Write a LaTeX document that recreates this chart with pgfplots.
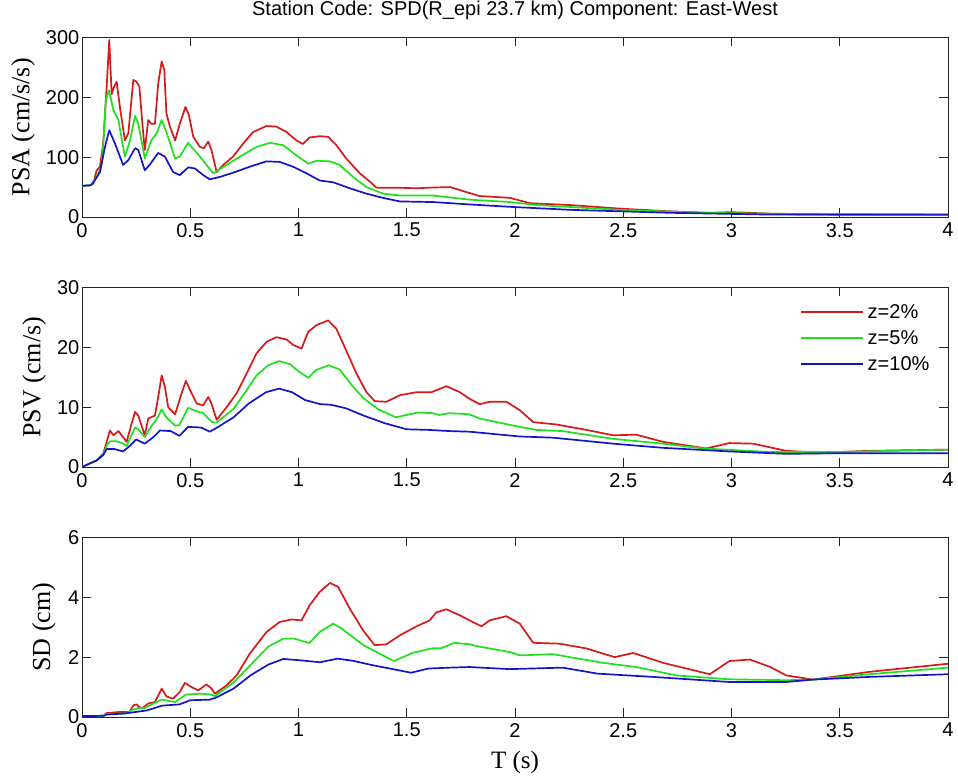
\documentclass[border=0pt]{standalone}
\usepackage{pgfplots}
\pgfplotsset{compat=1.18}
\usepackage{fontspec}
\setmainfont{Liberation Sans}
\newfontfamily\timesfont{Liberation Serif}
\definecolor{cr}{RGB}{215,25,25}
\definecolor{cg}{RGB}{30,225,30}
\definecolor{cb}{RGB}{20,20,205}
\pgfplotsset{
  myax/.style={
    scale only axis, width=866pt, height=179.5pt, anchor=south west,
    xmin=0, xmax=4,
    xtick={0,0.5,1,1.5,2,2.5,3,3.5,4},
    xticklabels={0,0.5,1,1.5,2,2.5,3,3.5,4},
    tick align=inside, major tick length=9pt,
    axis line style={black!85, line width=0.8pt},
    every tick/.style={black!85, line width=0.8pt},
    ticklabel style={font=\fontsize{20}{24}\selectfont},
    yticklabel style={inner xsep=2.5pt},
    xticklabel style={inner ysep=6pt},
    ylabel style={font=\timesfont\fontsize{26}{30}\selectfont, anchor=center, rotate=0},
    every axis plot/.append style={line width=1.7pt, line join=round},
    clip=true,
  }
}
\begin{document}
\begin{tikzpicture}
\path[use as bounding box] (0,0) rectangle (958pt,778pt);
% top
\begin{axis}[myax, at={(82pt,561pt)}, ymin=0, ymax=300,
  ytick={0,100,200,300}, yticklabels={0,100,200,300},
  ylabel={PSA (cm/s/s)}, ylabel style={at={(axis description cs:-0.0681,0.5)}},
  title={Station Code: SPD(R\_epi 23.7 km) Component: East-West},
  title style={font=\fontsize{20}{24}\selectfont, at={(axis description cs:0.5,1.12)}, anchor=center}]
\addplot[cr] coordinates {(0,52)(0.04,53)(0.052,56)(0.068,78)(0.083,84)(0.098,123)(0.114,218)(0.126,296)(0.137,205)(0.145,215)(0.16,226)(0.175,184)(0.198,128)(0.214,140)(0.237,229)(0.252,226)(0.265,218)(0.28,151)(0.29,112)(0.306,162)(0.32,156)(0.337,156)(0.352,223)(0.368,260)(0.38,246)(0.39,173)(0.406,151)(0.43,128)(0.452,156)(0.478,184)(0.494,170)(0.514,134)(0.545,117)(0.563,115)(0.583,126)(0.598,112)(0.622,75)(0.652,87)(0.698,101)(0.745,123)(0.79,142)(0.852,152)(0.898,151)(0.945,142)(0.99,128)(1.02,122)(1.052,133)(1.098,135)(1.137,134)(1.175,120)(1.22,98)(1.283,73)(1.33,59)(1.36,49)(1.45,49)(1.55,48)(1.6,49)(1.7,50)(1.79,40)(1.837,35)(1.976,32)(2.07,23)(2.253,20)(2.484,14)(2.715,9.5)(2.9,7)(2.99,8)(3.05,7.5)(3.18,5.6)(3.33,4)(3.6,3.8)(4,3.5)};
\addplot[cg] coordinates {(0,52)(0.04,53)(0.068,67)(0.09,85)(0.098,120)(0.11,195)(0.124,212)(0.145,179)(0.168,162)(0.198,101)(0.222,128)(0.245,169)(0.26,156)(0.29,98)(0.32,128)(0.345,140)(0.368,162)(0.39,142)(0.43,98)(0.452,101)(0.49,124)(0.506,117)(0.545,101)(0.606,73)(0.668,87)(0.73,101)(0.806,117)(0.868,124)(0.93,120)(0.99,103)(1.045,89)(1.083,94)(1.145,93)(1.19,87)(1.252,67)(1.314,50)(1.39,39)(1.468,36)(1.62,36)(1.79,29)(1.837,28)(1.976,25)(2.1,20)(2.48,12)(2.87,7)(3.3,5)(4,3.8)};
\addplot[cb] coordinates {(0,52)(0.04,53)(0.052,57)(0.083,75)(0.106,117)(0.126,145)(0.152,123)(0.19,87)(0.214,95)(0.245,115)(0.26,112)(0.29,78)(0.314,88)(0.352,107)(0.383,101)(0.421,75)(0.452,70)(0.491,83)(0.522,81)(0.56,70)(0.59,63)(0.637,67)(0.698,74)(0.775,84)(0.852,93)(0.914,92)(0.975,84)(1.037,73)(1.098,61)(1.16,58)(1.237,48)(1.314,39)(1.39,32)(1.468,26)(1.62,25)(1.79,21)(1.976,17)(2.253,12)(2.715,7)(3.18,4)(4,4)};
\end{axis}
% middle
\begin{axis}[myax, at={(82pt,311pt)}, ymin=0, ymax=30,
  ytick={0,10,20,30}, yticklabels={0,10,20,30},
  ylabel={PSV (cm/s)}, ylabel style={at={(axis description cs:-0.0554,0.5)}},
  legend cell align=left,
  legend style={draw=none, fill=none, at={(rel axis cs:0.826,0.947)}, anchor=north west,
    font=\fontsize{20}{24}\selectfont,
    nodes={inner ysep=0pt, inner xsep=3.5pt, text height=19pt, text depth=7pt}},
  legend image code/.code={\draw[#1] (0pt,0pt) -- (62pt,0pt);}]
\addplot[cr] coordinates {(0,0)(0.068,1.1)(0.098,2.2)(0.114,4.2)(0.129,6.1)(0.145,5.3)(0.168,6.0)(0.19,5.0)(0.206,4.2)(0.229,7.2)(0.245,9.2)(0.26,8.6)(0.29,5.3)(0.306,8.1)(0.337,8.6)(0.352,11.7)(0.368,15.3)(0.383,13.4)(0.398,10.0)(0.43,8.8)(0.46,12.3)(0.48,14.4)(0.5,12.8)(0.53,10.6)(0.56,10.3)(0.583,11.7)(0.598,10.6)(0.622,7.9)(0.668,10.0)(0.714,12.3)(0.76,15.6)(0.806,19.0)(0.852,20.9)(0.898,21.7)(0.945,21.3)(0.975,20.4)(1.014,19.8)(1.045,22.6)(1.083,23.7)(1.137,24.5)(1.175,23.1)(1.22,19.5)(1.268,15.6)(1.314,12.5)(1.352,11.0)(1.406,10.9)(1.468,12.0)(1.545,12.5)(1.614,12.5)(1.683,13.5)(1.745,12.5)(1.79,11.4)(1.837,10.5)(1.883,10.9)(1.96,10.9)(2.022,9.5)(2.084,7.5)(2.192,7.1)(2.33,6.2)(2.453,5.3)(2.56,5.4)(2.684,4.2)(2.884,3.1)(2.99,4.0)(3.1,3.9)(3.253,2.7)(3.41,2.4)(3.638,2.7)(4,2.9)};
\addlegendentry{z=2\%}
\addplot[cg] coordinates {(0,0)(0.068,1.1)(0.098,2.0)(0.114,3.6)(0.129,4.3)(0.16,4.3)(0.19,3.9)(0.206,3.5)(0.245,6.6)(0.26,6.3)(0.29,5.0)(0.32,6.8)(0.345,8.0)(0.368,9.6)(0.39,8.3)(0.43,6.9)(0.45,7.0)(0.49,9.9)(0.53,9.3)(0.56,9.0)(0.6,7.5)(0.62,7.4)(0.7,9.7)(0.76,12.8)(0.806,15.3)(0.86,17.0)(0.91,17.7)(0.96,17.2)(1.0,16.0)(1.045,14.9)(1.08,16.2)(1.14,17.0)(1.19,16.3)(1.25,13.5)(1.3,11.5)(1.37,9.6)(1.45,8.3)(1.55,9.1)(1.62,9.0)(1.65,8.7)(1.7,9.0)(1.79,8.8)(1.837,8.1)(2.022,6.7)(2.1,6.2)(2.22,6.0)(2.453,4.7)(2.684,3.9)(2.87,3.1)(3.18,2.5)(3.48,2.5)(4,2.9)};
\addlegendentry{z=5\%}
\addplot[cb] coordinates {(0,0)(0.068,1.1)(0.098,2.0)(0.114,3.0)(0.15,3.0)(0.19,2.6)(0.22,3.5)(0.25,4.6)(0.29,3.9)(0.33,5.0)(0.36,6.1)(0.41,6.0)(0.45,5.2)(0.49,6.7)(0.55,6.6)(0.59,5.9)(0.62,6.5)(0.7,8.3)(0.77,10.6)(0.85,12.5)(0.91,13.1)(0.97,12.5)(1.03,11.2)(1.1,10.5)(1.15,10.4)(1.22,9.8)(1.3,8.6)(1.4,7.3)(1.5,6.3)(1.6,6.2)(1.7,6.0)(1.79,5.9)(2.022,5.1)(2.176,4.9)(2.453,3.9)(2.684,3.2)(2.99,2.6)(3.253,2.2)(3.48,2.3)(4,2.3)};
\addlegendentry{z=10\%}
\end{axis}
% bottom
\begin{axis}[myax, at={(82pt,61pt)}, ymin=0, ymax=6,
  ytick={0,2,4,6}, yticklabels={0,2,4,6},
  ylabel={SD (cm)}, ylabel style={at={(axis description cs:-0.0439,0.5)}},
  xlabel={T (s)}, xlabel style={font=\timesfont\fontsize{25}{30}\selectfont, at={(axis description cs:0.5,-0.256)}, anchor=center}]
\addplot[cr] coordinates {(0,0.03)(0.1,0.04)(0.114,0.13)(0.175,0.17)(0.22,0.17)(0.237,0.39)(0.252,0.42)(0.275,0.28)(0.306,0.45)(0.337,0.5)(0.368,0.95)(0.39,0.69)(0.42,0.61)(0.452,0.84)(0.475,1.14)(0.506,1.0)(0.537,0.89)(0.575,1.09)(0.598,0.95)(0.614,0.78)(0.668,1.06)(0.714,1.39)(0.775,2.12)(0.852,2.84)(0.914,3.18)(0.968,3.26)(1.014,3.23)(1.052,3.74)(1.098,4.18)(1.145,4.48)(1.183,4.35)(1.237,3.62)(1.298,2.9)(1.352,2.4)(1.406,2.43)(1.468,2.73)(1.545,3.03)(1.606,3.23)(1.637,3.5)(1.683,3.6)(1.745,3.4)(1.79,3.23)(1.845,3.03)(1.883,3.23)(1.96,3.37)(2.022,3.12)(2.084,2.48)(2.207,2.45)(2.33,2.29)(2.46,2.0)(2.546,2.14)(2.684,1.81)(2.9,1.43)(2.99,1.87)(3.085,1.92)(3.18,1.67)(3.253,1.39)(3.376,1.25)(3.638,1.51)(4,1.78)};
\addplot[cg] coordinates {(0,0.03)(0.1,0.04)(0.114,0.1)(0.2,0.12)(0.237,0.25)(0.26,0.3)(0.29,0.3)(0.33,0.45)(0.368,0.58)(0.43,0.5)(0.48,0.75)(0.55,0.78)(0.598,0.75)(0.614,0.7)(0.7,1.15)(0.78,1.75)(0.86,2.35)(0.93,2.62)(0.98,2.62)(1.05,2.47)(1.1,2.85)(1.16,3.12)(1.2,2.95)(1.3,2.4)(1.44,1.87)(1.53,2.15)(1.62,2.3)(1.66,2.3)(1.72,2.48)(1.79,2.43)(1.837,2.35)(1.976,2.17)(2.022,2.06)(2.176,2.1)(2.253,2.0)(2.407,1.81)(2.56,1.67)(2.745,1.39)(2.99,1.26)(3.253,1.23)(3.376,1.25)(3.638,1.43)(4,1.65)};
\addplot[cb] coordinates {(0,0.03)(0.1,0.04)(0.114,0.08)(0.2,0.12)(0.3,0.22)(0.37,0.38)(0.45,0.42)(0.5,0.56)(0.59,0.58)(0.62,0.65)(0.7,0.95)(0.78,1.4)(0.86,1.75)(0.93,1.94)(1.0,1.9)(1.1,1.83)(1.18,1.95)(1.25,1.88)(1.35,1.72)(1.45,1.58)(1.52,1.48)(1.6,1.62)(1.7,1.65)(1.79,1.67)(1.976,1.6)(2.22,1.65)(2.38,1.45)(2.638,1.34)(2.99,1.17)(3.253,1.17)(3.376,1.25)(3.638,1.34)(4,1.43)};
\end{axis}
\end{tikzpicture}
\end{document}
